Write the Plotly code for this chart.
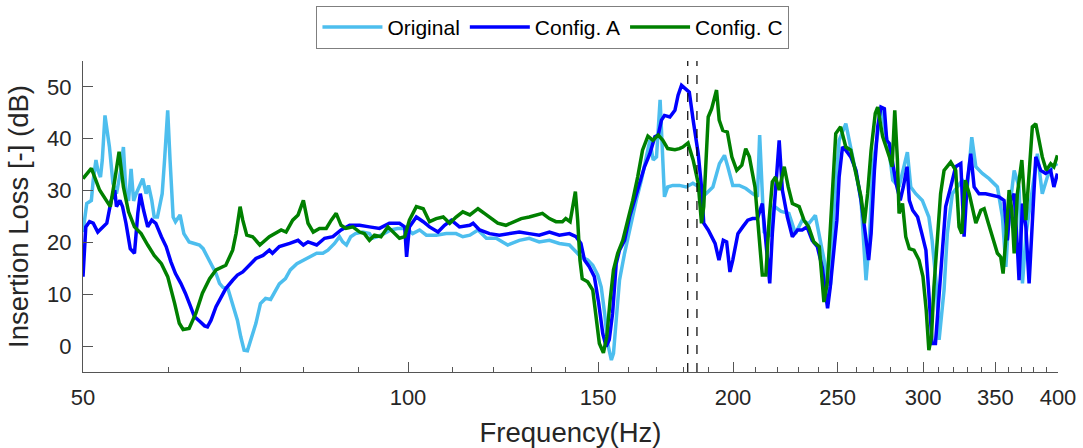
import plotly.graph_objects as go

# ---------------- data ----------------
freq_orig = [50.0, 50.4, 50.9, 51.1, 51.4, 51.6, 51.9, 52.1, 52.4, 52.9, 53.3, 53.7, 54.2, 54.5, 54.8,
             55.1, 55.4, 55.7, 56.0, 56.4, 56.8, 57.2, 57.5, 57.9, 58.2, 58.6, 59.2, 59.5, 59.9, 60.2,
             60.6, 60.9, 61.5, 62.0, 62.7, 63.4, 64.1, 64.6, 65.2, 65.9, 66.4, 66.9, 67.4, 68.1, 68.8,
             69.5, 70.0, 70.5, 71.0, 71.5, 72.3, 73.0, 73.8, 74.6, 75.4, 76.0, 77.0, 77.8, 78.9, 80.0,
             81.1, 82.3, 83.4, 84.3, 85.5, 86.4, 87.0, 87.7, 88.5, 89.4, 90.8, 92.1, 92.7, 93.7, 95.0,
             96.4, 97.8, 99.6, 101.0, 102.5, 104.0, 106.2, 108.5, 110.8, 112.4, 114.1, 116.1, 118.2,
             120.7, 123.7, 126.8, 129.5, 132.3, 135.2, 138.1, 141.1, 143.1, 144.6, 146.7, 148.3, 149.9,
             151.0, 152.1, 153.1, 154.3, 155.0, 155.9, 157.0, 158.7, 160.4, 162.7, 164.5, 166.3, 167.5,
             168.7, 169.9, 171.2, 172.2, 172.8, 174.0, 175.9, 178.4, 181.0, 183.6, 186.1, 188.8, 191.6,
             194.3, 196.4, 197.8, 199.9, 202.7, 205.6, 208.5, 210.7, 211.7, 212.8, 213.7, 216.0, 218.3,
             221.6, 225.3, 228.5, 231.8, 235.0, 238.4, 240.9, 243.6, 244.7, 246.3, 247.9, 250.8, 254.4,
             257.1, 260.0, 262.8, 265.6, 267.5, 269.4, 272.3, 274.2, 276.3, 279.2, 281.2, 285.0, 290.1,
             292.2, 295.3, 299.5, 303.7, 305.8, 308.5, 310.4, 313.7, 315.9, 319.3, 326.2, 329.7, 332.8,
             335.7, 340.4, 345.3, 351.5, 355.3, 357.9, 360.4, 364.3, 368.1, 370.8, 373.7, 378.7, 382.8,
             386.8, 391.0, 395.1, 399.5]
il_orig = [22.0, 27.5, 28.1, 32.0, 35.9, 34.0, 32.6, 35.9, 44.5, 38.4, 31.4, 29.4, 34.0, 38.4, 29.4,
           28.0, 34.2, 28.0, 29.4, 30.7, 32.3, 29.4, 31.0, 28.1, 24.9, 24.9, 29.4, 35.9, 45.5, 35.9,
           24.9, 24.0, 25.3, 21.7, 20.1, 19.8, 19.5, 18.8, 17.2, 15.6, 14.0, 12.1, 11.3, 11.1, 8.2,
           5.0, 1.8, -0.8, -0.9, 1.2, 4.4, 8.2, 9.2, 9.0, 10.8, 12.0, 13.0, 14.7, 15.9, 16.6,
           17.2, 17.9, 17.9, 18.5, 19.8, 21.1, 20.1, 19.5, 21.1, 21.7, 22.0, 21.7, 20.8, 21.1, 21.7,
           22.4, 22.7, 22.7, 21.7, 22.4, 21.4, 21.4, 21.7, 21.7, 21.1, 21.4, 22.4, 20.8,
           20.8, 19.5, 20.4, 20.8, 20.1, 20.4, 19.8, 19.5, 18.2, 17.2, 16.6, 15.6, 13.7,
           11.4, 6.3, 0.5, -2.7, -1.4, 5.0, 12.7, 17.9, 22.4, 28.1, 32.0, 37.1, 39.7,
           35.9, 36.5, 47.5, 35.9, 28.8, 30.7, 31.0, 31.0, 30.7, 31.4, 30.7, 29.4, 30.7,
           35.2, 36.8, 34.6, 31.0, 31.0, 30.4, 29.4, 28.8, 40.7, 30.7, 22.0, 21.1, 27.0,
           26.0, 25.6, 21.7, 24.3, 23.6, 25.2, 20.4, 15.3, 9.5, 12.0, 25.6, 39.7, 42.9,
           38.4, 33.3, 28.1, 12.7, 20.4, 34.6, 41.0, 46.1, 42.3, 37.1, 32.0, 30.7, 37.4,
           30.7, 29.4, 28.1, 24.9, 20.4, 12.1, 1.2, 10.8, 21.7, 29.4, 32.0, 30.7, 40.3,
           34.6, 33.3, 32.3, 30.7, 24.9, 15.3, 25.6, 33.9, 30.7, 12.1, 21.7, 30.7, 37.1,
           29.4, 32.6, 34.6, 35.2]

freq_a = [50.0, 50.3, 50.7, 51.1, 51.6, 52.2, 52.6, 53.1, 53.5, 53.7, 54.1, 54.4, 54.8, 55.3, 55.8,
          56.2, 56.5, 56.9, 57.4, 57.9, 58.4, 59.1, 59.7, 60.3, 60.9, 61.6, 62.2, 62.9, 63.4, 64.2,
          64.8, 65.2, 65.7, 66.4, 67.1, 67.8, 68.8, 69.5, 70.3, 71.3, 72.3, 73.4, 74.4, 74.9, 76.0,
          77.7, 79.1, 80.0, 80.8, 82.3, 83.7, 85.2, 86.7, 88.3, 90.2, 92.1, 94.1, 96.1, 98.2, 99.3,
          99.7, 100.3, 101.8, 103.3, 104.7, 106.6, 108.1, 109.7, 111.6, 114.1, 114.9, 116.5, 119.0,
          121.5, 124.1, 126.8, 129.5, 132.3, 135.2, 138.1, 141.1, 143.1, 144.6, 145.7, 147.2, 148.8,
          150.2, 151.5, 152.6, 153.6, 154.7, 155.9, 157.0, 158.7, 160.4, 162.1, 163.8, 165.6, 167.5,
          169.3, 170.5, 171.7, 172.8, 174.8, 176.7, 177.9, 179.2, 180.5, 182.2, 183.7, 185.7, 187.0,
          187.9, 189.7, 191.1, 192.5, 194.1, 195.9, 197.3, 198.7, 199.9, 202.1, 204.2, 206.4, 208.5,
          210.7, 212.9, 214.5, 216.3, 217.5, 219.0, 220.7, 222.2, 224.6, 227.0, 229.5, 231.8, 234.2,
          236.8, 239.4, 241.9, 243.6, 244.7, 246.1, 247.9, 249.6, 250.8, 252.6, 254.4, 257.1, 260.0,
          262.8, 265.2, 267.1, 268.5, 270.4, 272.3, 274.2, 276.2, 277.6, 279.2, 281.2, 283.2, 285.7,
          287.6, 289.9, 291.3, 293.4, 296.5, 299.2, 301.8, 303.7, 305.8, 308.0, 310.4, 312.6, 314.8,
          318.2, 321.6, 325.1, 327.4, 329.7, 332.1, 334.5, 338.0, 342.8, 347.7, 352.7, 356.5, 359.0,
          361.6, 364.3, 366.8, 368.1, 370.8, 373.5, 376.1, 378.7, 381.5, 385.5, 389.6, 393.8, 396.5,
          399.5]
il_a = [13.4, 23.0, 24.0, 23.7, 22.0, 23.0, 23.7, 28.1, 30.1, 26.9, 28.1, 26.9, 23.7, 18.8, 17.9,
        25.6, 29.4, 26.2, 23.0, 24.3, 23.7, 21.1, 19.2, 16.3, 14.0, 12.1, 10.2, 7.6, 5.7, 4.7,
        3.9, 3.7, 5.0, 7.6, 9.5, 11.1, 12.7, 13.7, 14.3, 15.6, 16.9, 17.5, 18.5, 17.9, 19.2,
        19.8, 20.4, 19.5, 20.1, 19.5, 20.8, 21.1, 22.4, 23.3, 23.3, 23.0, 22.7, 23.7, 23.7, 23.0,
        17.2, 23.0, 24.9, 24.0, 23.0, 22.0, 23.3, 24.3, 23.0, 23.3, 23.7, 22.4, 21.7,
        21.4, 21.7, 22.0, 21.7, 21.4, 22.0, 21.4, 21.7, 21.1, 19.8, 16.6, 15.3, 13.4,
        8.2, 2.4, -0.1, 1.2, 6.3, 15.9, 18.5, 20.4, 24.9, 28.1, 30.7, 34.6, 37.1,
        40.4, 40.7, 43.6, 44.5, 44.2, 45.5, 48.4, 50.3, 49.7, 49.0, 43.6, 37.1, 30.7,
        23.7, 22.4, 21.1, 19.8, 16.6, 20.4, 20.1, 14.3, 16.6, 21.7, 23.0, 24.3, 24.6,
        24.6, 27.5, 20.4, 12.1, 21.7, 30.7, 39.7, 30.1, 24.9, 21.1, 22.4, 22.4, 23.0,
        20.4, 19.2, 15.3, 10.2, 7.3, 11.4, 18.5, 24.3, 32.6, 38.4, 37.8, 36.5, 33.9,
        28.1, 21.7, 16.6, 21.7, 33.9, 42.3, 46.1, 45.8, 39.7, 39.1, 35.2, 31.4, 28.1,
        30.7, 34.6, 28.1, 26.2, 24.9, 21.7, 18.5, 10.2, 0.5, 0.5, 10.2, 19.2, 26.9,
        30.7, 34.6, 35.2, 21.1, 32.0, 37.1, 30.7, 29.4, 29.4, 29.1, 28.8, 28.1, 20.4,
        28.1, 29.4, 19.2, 12.7, 27.5, 23.0, 12.1, 23.0, 36.5, 33.9, 33.3, 33.9, 30.7,
        33.3]

freq_c = [50.0, 50.9, 51.8, 53.0, 53.5, 54.0, 54.5, 55.1, 55.8, 56.6, 57.4, 58.2, 59.1, 59.9, 60.8,
          61.4, 61.9, 62.7, 63.6, 64.5, 65.5, 66.4, 67.8, 68.8, 69.3, 69.9, 70.3, 70.9, 71.8, 72.9,
          74.4, 76.3, 77.1, 78.2, 79.1, 80.0, 80.8, 81.7, 82.8, 84.0, 84.9, 85.8, 86.7, 87.6, 88.9,
          90.2, 91.1, 92.1, 93.1, 94.4, 95.8, 97.2, 98.2, 99.3, 100.3, 101.8, 103.3, 104.7, 106.2,
          107.8, 109.3, 110.8, 112.4, 114.1, 116.1, 117.7, 119.4, 121.1, 123.2, 125.3, 127.3, 129.5,
          131.3, 133.2, 135.2, 137.1, 139.0, 140.0, 141.3, 142.1, 142.9, 143.6, 144.3, 145.0, 146.7,
          148.3, 149.3, 150.4, 151.7, 152.8, 153.9, 155.0, 156.4, 158.1, 159.8, 161.5, 163.2, 164.9,
          166.8, 168.6, 170.5, 172.2, 174.0, 176.7, 178.4, 179.7, 181.7, 183.7, 185.7, 187.0, 187.9,
          188.9, 189.7, 191.1, 193.1, 194.2, 195.7, 197.6, 199.5, 201.6, 203.8, 205.5, 207.1, 209.6,
          211.4, 212.9, 214.5, 216.0, 217.5, 219.0, 220.7, 223.1, 225.0, 227.0, 230.3, 232.7, 235.0,
          237.6, 240.4, 241.7, 242.8, 244.5, 247.1, 249.0, 251.6, 254.4, 257.1, 260.0, 262.8, 264.7,
          266.5, 268.5, 270.9, 272.3, 275.2, 279.2, 280.8, 282.4, 284.0, 285.0, 287.1, 289.1, 291.3,
          294.2, 297.4, 299.9, 302.0, 303.7, 305.4, 307.0, 309.2, 311.4, 313.7, 318.2, 321.6, 323.9,
          325.8, 328.2, 331.0, 333.3, 335.7, 339.3, 341.7, 344.8, 347.8, 351.5, 354.0, 355.8, 357.8,
          360.4, 362.5, 364.3, 366.8, 370.3, 373.5, 376.1, 378.7, 381.5, 384.1, 386.8, 390.1, 393.8,
          396.5, 399.5]
il_c = [32.3, 34.3, 30.1, 26.9, 32.0, 37.5, 30.7, 25.9, 23.0, 21.7, 19.5, 17.5, 15.9, 13.4, 8.2,
        4.4, 3.2, 3.4, 6.3, 10.2, 13.0, 14.7, 15.6, 18.5, 21.7, 26.9, 24.3, 21.4, 21.1, 19.5,
        21.1, 22.4, 22.0, 24.3, 25.3, 28.1, 23.7, 22.0, 22.7, 22.7, 24.3, 25.6, 23.3, 22.7, 23.0,
        22.0, 21.7, 20.4, 21.4, 21.1, 23.0, 21.7, 20.8, 21.1, 24.3, 26.9, 26.5, 24.0, 24.6,
        24.9, 23.7, 24.9, 25.9, 25.3, 26.5, 25.6, 24.6, 23.7, 23.3, 24.0, 24.6, 24.9,
        25.3, 25.6, 24.6, 24.0, 24.0, 24.6, 24.0, 26.9, 29.8, 24.3, 16.6, 13.0, 12.4,
        10.8, 6.3, 0.5, -1.3, 1.8, 8.9, 14.7, 17.9, 20.4, 24.3, 28.1, 32.6, 37.8,
        40.5, 39.7, 40.7, 39.7, 38.1, 37.9, 38.1, 38.4, 39.2, 35.9, 31.4, 23.7, 26.9,
        35.9, 44.2, 45.8, 49.4, 43.6, 41.6, 41.3, 36.5, 33.9, 34.9, 38.1, 36.5, 30.7,
        20.4, 13.7, 13.7, 24.3, 31.7, 32.6, 30.1, 34.6, 30.7, 27.5, 26.9, 24.3, 23.0,
        20.1, 19.2, 13.4, 8.5, 12.1, 28.1, 41.0, 42.3, 38.4, 37.8, 33.3, 28.8, 23.7,
        29.4, 37.8, 44.9, 46.1, 40.4, 36.5, 34.6, 45.5, 35.9, 25.6, 27.5, 21.1, 18.8,
        18.5, 16.6, 13.4, 6.9, -0.8, 1.8, 11.4, 21.7, 29.4, 33.9, 35.5, 33.9, 23.0,
        21.7, 32.0, 29.4, 26.9, 23.7, 26.2, 26.5, 23.7, 21.1, 17.9, 17.2, 14.0, 20.4,
        30.1, 26.2, 17.9, 29.4, 35.9, 24.3, 33.3, 42.3, 42.9, 39.7, 36.5, 33.9, 35.2,
        34.6, 36.8]

marker_freqs = [181.6, 185.2]          # dashed vertical reference lines (Hz)
x_tickvals = [50, 100, 150, 200, 250, 300, 350, 400]
x_minor = [60, 70, 80, 90, 110, 120, 130, 140, 160, 170, 180, 190, 210, 220, 230, 240,
           260, 270, 280, 290, 310, 320, 330, 340, 360, 370, 380, 390]
y_tickvals = [0, 10, 20, 30, 40, 50]

# ---------------- figure ----------------
TXT = "#262626"
AX = "#555555"
FONT = "Liberation Sans, Arial, Helvetica, sans-serif"

fig = go.Figure()
for f, v, name, col in [(freq_orig, il_orig, "Original", "#4DBEEE"),
                        (freq_a, il_a, "Config. A", "#0000FF"),
                        (freq_c, il_c, "Config. C", "#008000")]:
    fig.add_trace(go.Scatter(x=f, y=v, mode="lines", name=name,
                             line=dict(color=col, width=3.5)))

for mf in marker_freqs:
    fig.add_trace(go.Scatter(x=[mf, mf], y=[-5, 55], mode="lines", showlegend=False,
                             hoverinfo="skip",
                             line=dict(color="black", width=1.2, dash="dash")))

fig.update_layout(
    template="none",
    width=1083, height=448,
    margin=dict(l=83, r=25, t=61, b=76, autoexpand=False),
    paper_bgcolor="white", plot_bgcolor="white",
    font=dict(family=FONT, color=TXT, size=22),
    showlegend=True,
    legend=dict(orientation="h", x=0.482, xanchor="center", y=1.177, yanchor="top",
                bgcolor="white", bordercolor="#7f7f7f", borderwidth=1,
                font=dict(size=21, color="black"), itemwidth=60,
                tracegroupgap=0, traceorder="normal"),
    xaxis=dict(type="log", range=[1.69897, 2.60206], automargin=False,
               tickvals=x_tickvals, ticktext=[str(v) for v in x_tickvals],
               ticks="inside", ticklen=10, tickwidth=1, tickcolor=AX,
               ticklabelstandoff=6,
               minor=dict(tickvals=x_minor, ticks="inside", ticklen=5, tickwidth=1, tickcolor=AX),
               showline=True, linecolor=AX, linewidth=1, mirror=False,
               showgrid=False, zeroline=False,
               tickfont=dict(size=22, color=TXT),
               title=dict(text="Frequency(Hz)", font=dict(size=27.5, color=TXT), standoff=14)),
    yaxis=dict(range=[-5, 55], tickvals=y_tickvals, automargin=False,
               ticks="inside", ticklen=10, tickwidth=1, tickcolor=AX,
               ticklabelstandoff=6,
               showline=True, linecolor=AX, linewidth=1, mirror=False,
               showgrid=False, zeroline=False,
               tickfont=dict(size=22, color=TXT),
               title=dict(text="Insertion Loss [-] (dB)", font=dict(size=27.5, color=TXT), standoff=10)),
)

fig.write_html("out.html")
